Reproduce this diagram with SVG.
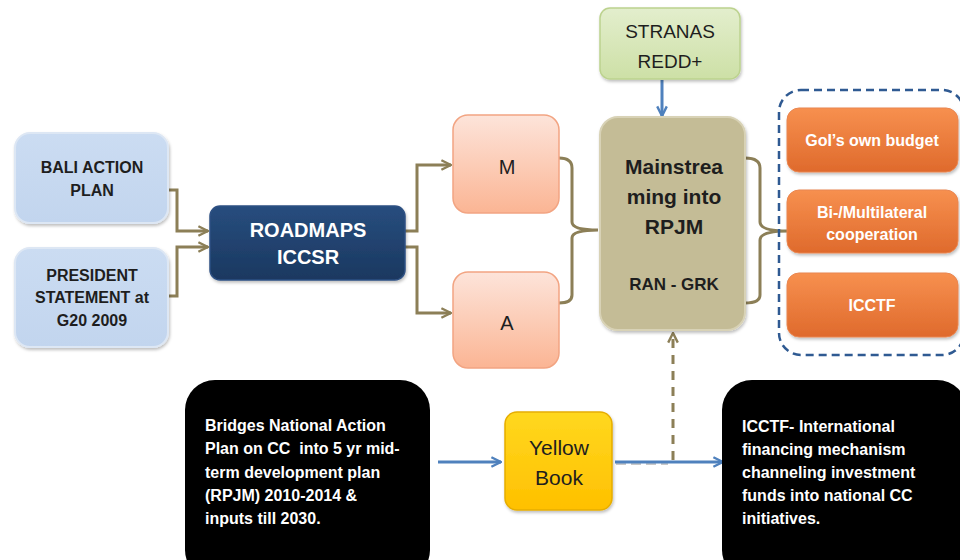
<svg xmlns="http://www.w3.org/2000/svg" width="960" height="560" viewBox="0 0 960 560">
<defs>
<linearGradient id="gBlue" x1="0" y1="0" x2="0" y2="1"><stop offset="0" stop-color="#cbdcf2"/><stop offset="1" stop-color="#c2d5ee"/></linearGradient>
<linearGradient id="gNavy" x1="0" y1="0" x2="0" y2="1"><stop offset="0" stop-color="#274d7e"/><stop offset="1" stop-color="#1b3860"/></linearGradient>
<linearGradient id="gSalmon" x1="0" y1="0" x2="0" y2="1"><stop offset="0" stop-color="#fde4da"/><stop offset="1" stop-color="#fbb594"/></linearGradient>
<linearGradient id="gGreen" x1="0" y1="0" x2="0" y2="1"><stop offset="0" stop-color="#e3eecd"/><stop offset="1" stop-color="#cde0a6"/></linearGradient>
<linearGradient id="gOrange" x1="0" y1="0" x2="0" y2="1"><stop offset="0" stop-color="#f7904f"/><stop offset="1" stop-color="#df6a2c"/></linearGradient>
<linearGradient id="gYellow" x1="0" y1="0" x2="0" y2="1"><stop offset="0" stop-color="#ffd81f"/><stop offset="1" stop-color="#ffc000"/></linearGradient>
<filter id="sh" x="-10%" y="-10%" width="125%" height="130%"><feDropShadow dx="1" dy="2" stdDeviation="1.5" flood-color="#000" flood-opacity="0.25"/></filter>
<marker id="aKhaki" viewBox="0 0 10 10" refX="9" refY="5" markerWidth="4" markerHeight="4" orient="auto" markerUnits="strokeWidth"><polyline points="1,1 9,5 1,9" fill="none" stroke="#8c7f57" stroke-width="2"/></marker>
<marker id="aBlue" viewBox="0 0 10 10" refX="9" refY="5" markerWidth="4" markerHeight="4" orient="auto" markerUnits="strokeWidth"><polyline points="1,1 9,5 1,9" fill="none" stroke="#4f81bd" stroke-width="2"/></marker>
</defs>
<style>
.conn{fill:none;stroke:#8c7f57;stroke-width:3}
.blue{fill:none;stroke:#4f81bd;stroke-width:3}
.dk{font-family:"Liberation Sans",Arial,sans-serif;fill:#1e1e1e;text-anchor:middle}
.wt{font-family:"Liberation Sans",Arial,sans-serif;fill:#ffffff;font-weight:bold}
.b{font-weight:bold}
</style>
<rect width="960" height="560" fill="#ffffff"/>

<g id="connectors">
<path class="conn" d="M168,190 H177 V231 H208" marker-end="url(#aKhaki)"/>
<path class="conn" d="M168,296 H177 V247 H208" marker-end="url(#aKhaki)"/>
<path class="conn" d="M405,231 H417 V165 H451" marker-end="url(#aKhaki)"/>
<path class="conn" d="M405,247 H417 V313 H451" marker-end="url(#aKhaki)"/>
<path class="conn" d="M559,158 Q572,158 572,168 V222 Q572,230 598,230 Q572,230 572,238 V295 Q572,303 559,303"/>
<path class="conn" d="M745,158 Q760,158 760,168 V222 Q760,231 788,231 Q760,231 760,240 V295 Q760,303 745,303"/>
<path class="blue" d="M662,80 V116" marker-end="url(#aBlue)"/>
<path class="blue" d="M438,462 H501" marker-end="url(#aBlue)"/>
<path d="M616,464 H668" fill="none" stroke="#c8c8c8" stroke-width="2" stroke-dasharray="10,5"/>
<path class="blue" d="M615,462 H723" marker-end="url(#aBlue)"/>
<path class="conn" d="M673,460 V333" stroke-dasharray="9,7" marker-end="url(#aKhaki)"/>
</g>

<g id="bali">
<rect x="15" y="133" width="153" height="90" rx="15" fill="url(#gBlue)" stroke="#dde7f4" stroke-width="2" filter="url(#sh)"/>
<text class="dk b" x="92" y="173" font-size="16">BALI ACTION</text>
<text class="dk b" x="92" y="196" font-size="16">PLAN</text>
</g>
<g id="president">
<rect x="15" y="248" width="153" height="99" rx="15" fill="url(#gBlue)" stroke="#dde7f4" stroke-width="2" filter="url(#sh)"/>
<text class="dk b" x="92" y="281" font-size="16">PRESIDENT</text>
<text class="dk b" x="92" y="303" font-size="16">STATEMENT at</text>
<text class="dk b" x="92" y="326" font-size="16">G20 2009</text>
</g>
<g id="roadmaps">
<rect x="210" y="206" width="195" height="74" rx="10" fill="url(#gNavy)" stroke="#2d5082" stroke-width="1.5" filter="url(#sh)"/>
<text class="wt" x="308" y="237" font-size="20" text-anchor="middle">ROADMAPS</text>
<text class="wt" x="308" y="264" font-size="20" text-anchor="middle">ICCSR</text>
</g>
<g id="m">
<rect x="453" y="115" width="106" height="98" rx="15" fill="url(#gSalmon)" stroke="#f2a482" stroke-width="1.5"/>
<text class="dk" x="507" y="174" font-size="20">M</text>
</g>
<g id="a">
<rect x="453" y="272" width="106" height="96" rx="15" fill="url(#gSalmon)" stroke="#f2a482" stroke-width="1.5"/>
<text class="dk" x="507" y="330" font-size="20">A</text>
</g>
<g id="stranas">
<rect x="600" y="8" width="140" height="71" rx="10" fill="url(#gGreen)" stroke="#bcd28e" stroke-width="1.5" filter="url(#sh)"/>
<text class="dk" x="670" y="38" font-size="19">STRANAS</text>
<text class="dk" x="670" y="68" font-size="19">REDD+</text>
</g>
<g id="mainstreaming">
<rect x="600" y="117" width="145" height="213" rx="18" fill="#c4bc96" stroke="#d8d2b6" stroke-width="2" filter="url(#sh)"/>
<text class="dk b" x="674" y="174" font-size="21">Mainstrea</text>
<text class="dk b" x="674" y="204" font-size="21">ming into</text>
<text class="dk b" x="674" y="234" font-size="21">RPJM</text>
<text class="dk b" x="674" y="290" font-size="17">RAN - GRK</text>
</g>
<g id="funding">
<rect x="779" y="90" width="185" height="265" rx="22" fill="none" stroke="#2f5a92" stroke-width="2.5" stroke-dasharray="8,5"/>
</g>
<g id="goi">
<rect x="787" y="108" width="171" height="64" rx="12" fill="url(#gOrange)" stroke="#e98550" stroke-width="1" filter="url(#sh)"/>
<text class="wt" x="872" y="146" font-size="16" text-anchor="middle">GoI’s own budget</text>
</g>
<g id="bimulti">
<rect x="787" y="190" width="171" height="63" rx="12" fill="url(#gOrange)" stroke="#e98550" stroke-width="1" filter="url(#sh)"/>
<text class="wt" x="872" y="218" font-size="16" text-anchor="middle">Bi-/Multilateral</text>
<text class="wt" x="872" y="240" font-size="16" text-anchor="middle">cooperation</text>
</g>
<g id="icctf">
<rect x="787" y="273" width="171" height="64" rx="12" fill="url(#gOrange)" stroke="#e98550" stroke-width="1" filter="url(#sh)"/>
<text class="wt" x="872" y="311" font-size="16" text-anchor="middle">ICCTF</text>
</g>
<g id="bridges">
<rect x="185" y="380" width="245" height="200" rx="30" fill="#000000"/>
<text class="wt" x="205" y="431" font-size="16">Bridges National Action</text>
<text class="wt" x="205" y="454" font-size="16" xml:space="preserve">Plan on CC  into 5 yr mid-</text>
<text class="wt" x="205" y="478" font-size="16">term development plan</text>
<text class="wt" x="205" y="501" font-size="16">(RPJM) 2010-2014 &amp;</text>
<text class="wt" x="205" y="524" font-size="16">inputs till 2030.</text>
</g>
<g id="yellowbook">
<rect x="505" y="412" width="107" height="98" rx="12" fill="url(#gYellow)" stroke="#e6ad00" stroke-width="1.5" filter="url(#sh)"/>
<text class="dk" x="559" y="455" font-size="21">Yellow</text>
<text class="dk" x="559" y="485" font-size="21">Book</text>
</g>
<g id="icctfdesc">
<rect x="722" y="380" width="245" height="200" rx="30" fill="#000000"/>
<text class="wt" x="742" y="432" font-size="16">ICCTF- International</text>
<text class="wt" x="742" y="455" font-size="16">financing mechanism</text>
<text class="wt" x="742" y="478" font-size="16">channeling investment</text>
<text class="wt" x="742" y="501" font-size="16">funds into national CC</text>
<text class="wt" x="742" y="524" font-size="16">initiatives.</text>
</g>
</svg>
